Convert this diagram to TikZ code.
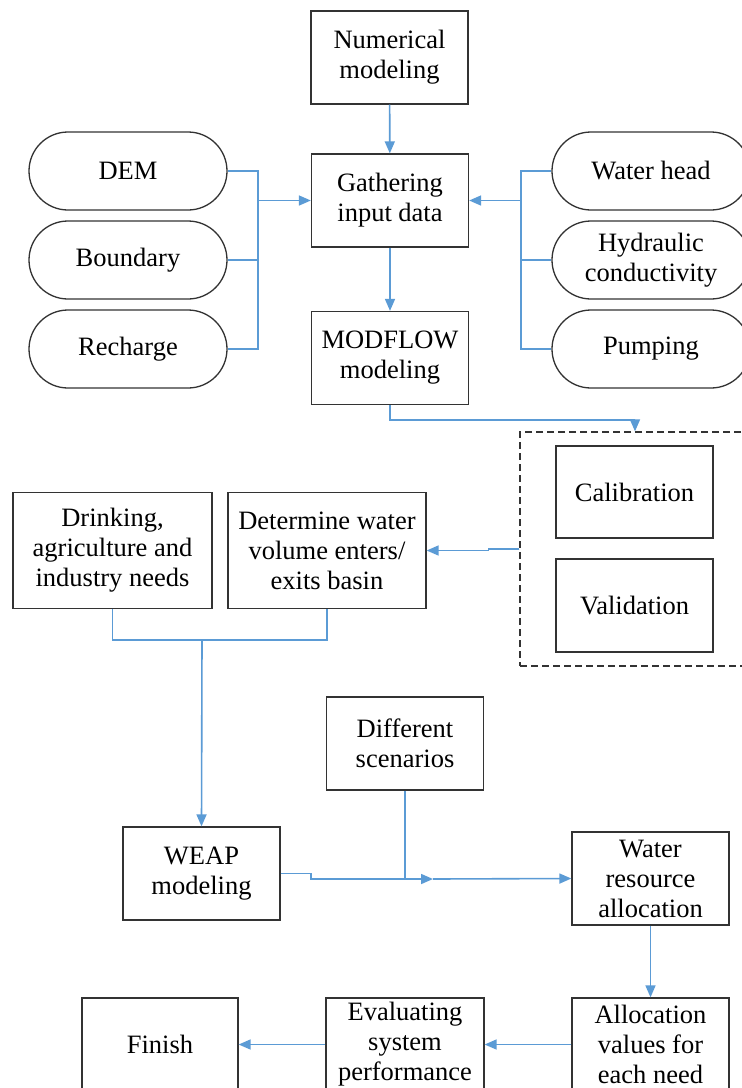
\documentclass[tikz,border=0pt]{standalone}
\usepackage{fontspec}
\setmainfont{Liberation Serif}
\usepackage{xcolor}
\usepackage{tikz}
\usetikzlibrary{arrows.meta,positioning}
\definecolor{linkblue}{RGB}{91,155,213}

\begin{document}
\begin{tikzpicture}[x=1pt,y=-1pt,font=\fontsize{26.5}{30}\selectfont,
  box/.style={draw=black!80,line width=1.3pt,inner sep=0pt,align=center,
    minimum width=157pt,minimum height=93pt},
  pill/.style={box,rounded corners=39pt,minimum width=198pt,minimum height=78pt},
  wide/.style={box,minimum width=199pt,minimum height=116pt},
  line/.style={draw=linkblue,line width=1.6pt},
  link/.style={line,-{Triangle[length=12pt,width=10pt]}}]
\clip (0,0) rectangle (742,1088);
\fill[white] (0,0) rectangle (742,1088);

\node[box] (num) at (389.5,57.5) {Numerical\\modeling};
\node[box] (gath) at (390,200.5) {Gathering\\input data};
\node[box] (modf) at (390,358) {MODFLOW\\modeling};

\node[pill] (dem) at (128,171) {DEM};
\node[pill] (bnd) at (128,260) {Boundary};
\node[pill] (rch) at (128,349) {Recharge};
\node[pill] (whd) at (651,171) {Water head};
\node[pill] (hyd) at (651,260) {Hydraulic\\conductivity};
\node[pill] (pmp) at (651,349) {Pumping};

\node[draw=black!80,line width=1.3pt,dash pattern=on 7pt off 4pt,minimum width=230pt,minimum height=234pt,inner sep=0pt] (frame) at (635,549) {};
\node[box,minimum height=92pt] (cal) at (634.5,492) {Calibration};
\node[box] (val) at (634.5,605.5) {Validation};

\node[wide] (drk) at (112.5,550.5) {Drinking,\\agriculture and\\industry needs};
\node[wide,minimum width=198pt] (det) at (327,550.5) {Determine water\\volume enters/\\exits basin};

\node[box] (dif) at (405,743.5) {Different\\scenarios};
\node[box] (weap) at (201.5,873.5) {WEAP\\modeling};
\node[box] (wra) at (650.5,878.5) {Water\\resource\\allocation};

\node[box] (alv) at (650.5,1044.5) {Allocation\\values for\\each need};
\node[box,minimum width=158pt] (evl) at (405,1044.5) {Evaluating\\system\\performance};
\node[box,minimum width=156pt] (fin) at (160,1044.5) {Finish};

\coordinate (lbus) at (258,200.5);
\coordinate (rbus) at (521,200.5);
\coordinate (merge) at (202,640);
\coordinate (join) at (405,879);

\draw[link] (num) -- (gath);
\draw[link] (gath) -- (modf);
\draw[line] (dem.east) -| (lbus) |- (rch.east);
\draw[line] (bnd.east) -- (lbus |- bnd.east);
\draw[link] (lbus) -- (gath.west);
\draw[line] (whd.west) -| (rbus) |- (pmp.west);
\draw[line] (hyd.west) -- (rbus |- hyd.west);
\draw[link] (rbus) -- (gath.east);

\draw[link] (modf.south) -- ++(0,15) -| (frame.north);
\draw[link] (frame.west) -- ++(-31,0) |- (det.east);

\draw[line] (drk.south) |- (merge) -| (det.south);
\draw[link] (merge) -- (weap.north);

\draw[line] (weap.east) -- (311,873.5) |- (join);
\draw[line] (dif.south) -- (join);
\draw[link] (join) -- (433,879);
\draw[link] (433,879) -- (wra.west);
\draw[link] (wra) -- (alv);
\draw[link] (alv) -- (evl);
\draw[link] (evl) -- (fin);
\end{tikzpicture}
\end{document}
